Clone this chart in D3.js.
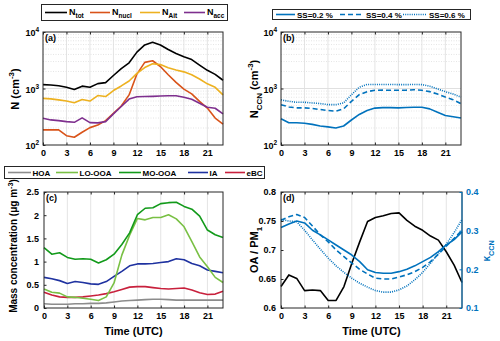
<!DOCTYPE html>
<html lang="en">
<head>
<meta charset="utf-8">
<title>Diurnal cycles</title>
<script src="https://cdn.jsdelivr.net/npm/d3@7"></script>
<style>
  body { margin: 0; background: #fff; }
  svg text { font-family: "Liberation Sans", Arial, sans-serif; font-weight: bold; }
</style>
</head>
<body>
<script>
// hour of day (UTC)
var hours = [0,1,2,3,4,5,6,7,8,9,10,11,12,13,14,15,16,17,18,19,20,21,22,23];
var xTicks = [0,3,6,9,12,15,18,21];

// (a) number concentrations, cm-3
var nTot  = [1170,1150,1120,1050,960,1100,1050,1220,1270,1700,2250,2850,4400,5900,6600,5900,4900,4150,3650,3250,2600,2100,1780,1400];
var nNucl = [185,185,185,146,137,168,203,226,270,365,490,770,1800,2900,3100,2450,1750,1280,975,805,590,450,300,235];
var nAit  = [670,655,630,600,560,640,600,750,720,920,1110,1360,1850,2350,2750,2650,2330,2130,1970,1750,1470,1210,1050,770];
var nAcc  = [297,278,270,259,252,302,249,246,259,355,480,650,715,720,725,735,745,745,700,645,550,465,447,355];

// (b) CCN number concentrations at three supersaturations
var ccn02 = [292,248,248,242,232,217,209,200,217,277,347,408,450,458,458,454,460,466,466,436,381,333,316,300];
var ccn04 = [515,472,454,454,442,425,408,397,436,593,776,880,930,935,930,930,935,950,930,880,796,706,634,540];
var ccn06 = [630,593,570,570,555,541,519,519,555,776,1050,1180,1180,1180,1180,1170,1170,1180,1170,1100,980,880,796,706];

// (c) mass concentrations, ug m-3
var hoa   = [0.09,0.08,0.08,0.08,0.09,0.09,0.1,0.1,0.11,0.13,0.15,0.16,0.17,0.18,0.19,0.19,0.18,0.17,0.17,0.17,0.17,0.17,0.17,0.17];
var loOoa = [0.41,0.34,0.32,0.24,0.23,0.21,0.19,0.16,0.24,0.54,1.14,1.57,1.93,1.9,1.95,1.95,2.01,1.92,1.75,1.43,1.1,0.89,0.66,0.55];
var moOoa = [1.3,1.16,1.19,1.09,1.05,1.06,1.05,0.97,1.04,1.16,1.37,1.62,2.01,2.15,2.16,2.25,2.27,2.28,2.19,2.13,1.98,1.68,1.58,1.52];
var ia    = [0.66,0.63,0.59,0.53,0.57,0.55,0.52,0.51,0.57,0.68,0.79,0.91,0.95,0.95,0.96,0.98,1.0,1.06,1.04,0.96,0.91,0.82,0.79,0.76];
var ebc   = [0.34,0.28,0.24,0.23,0.23,0.24,0.26,0.28,0.31,0.35,0.4,0.45,0.46,0.46,0.44,0.42,0.41,0.42,0.43,0.39,0.33,0.29,0.3,0.36];

// (d) OA / PM1 ratio and kappa CCN
var oaPm1 = [0.637,0.657,0.651,0.63,0.631,0.63,0.613,0.613,0.637,0.677,0.714,0.749,0.756,0.759,0.763,0.764,0.751,0.741,0.734,0.724,0.717,0.697,0.674,0.644];
var kap02 = [0.308,0.317,0.325,0.32,0.301,0.289,0.276,0.263,0.25,0.237,0.22,0.199,0.192,0.19,0.19,0.194,0.2,0.209,0.22,0.231,0.246,0.263,0.277,0.297];
var kap04 = [0.327,0.336,0.342,0.334,0.312,0.289,0.271,0.25,0.233,0.216,0.2,0.188,0.177,0.175,0.175,0.18,0.186,0.194,0.205,0.22,0.239,0.26,0.28,0.301];
var kap06 = [0.329,0.325,0.323,0.301,0.276,0.252,0.229,0.209,0.192,0.177,0.164,0.154,0.145,0.141,0.141,0.147,0.157,0.173,0.192,0.216,0.241,0.265,0.295,0.329];

var logTicks = [100,1000,10000];
var logTickExp = ["2","3","4"];
var massTicks = [0,0.5,1,1.5,2,2.5];
var massLabels = ["0","0.5","1","1.5","2","2.5"];
var ratioTicks = [0.6,0.65,0.7,0.75,0.8];
var ratioLabels = ["0.6","0.65","0.7","0.75","0.8"];
var kapTicks = [0.1,0.2,0.3,0.4];
var kapLabels = ["0.1","0.2","0.3","0.4"];

var blue = "#0072bd";

var svg = d3.select("body").append("svg").attr("width", 500).attr("height", 341);

// text with sub/superscripts
function rich(sel, parts, size) {
    var prev = 0;
    parts.forEach(function (p) {
        var shift = p[1] === "sub" ? size * 0.35 : (p[1] === "sup" ? -size * 0.42 : 0);
        var t = sel.append("tspan").text(p[0]).attr("dy", shift - prev);
        if (p[1]) t.attr("font-size", size * 0.72);
        prev = shift;
    });
}

function makePanel(box, y, opts) {
    var x = d3.scaleLinear().domain([0, 23]).range([box.l, box.r]);
    var g = svg.append("g");
    // grid
    g.selectAll(".vg").data(xTicks.slice(1)).enter().append("line")
        .attr("x1", function (d) { return x(d); }).attr("x2", function (d) { return x(d); })
        .attr("y1", box.t).attr("y2", box.b)
        .attr("stroke", "#e4e4e4").attr("stroke-width", 1);
    if (opts.log) {
        var minor = [];
        [100, 1000].forEach(function (dec) {
            for (var k = 2; k <= 9; k++) minor.push(dec * k);
        });
        g.selectAll(".mg").data(minor).enter().append("line")
            .attr("x1", box.l).attr("x2", box.r)
            .attr("y1", function (d) { return y(d); }).attr("y2", function (d) { return y(d); })
            .attr("stroke", "#dedede").attr("stroke-width", 0.8).attr("stroke-dasharray", "1,1.5");
        g.append("line").attr("x1", box.l).attr("x2", box.r)
            .attr("y1", y(1000)).attr("y2", y(1000))
            .attr("stroke", "#e0e0e0").attr("stroke-width", 1);
    }
    return {x: x, y: y, g: g};
}

function drawLine(p, data, color, dash, yScale) {
    var ys = yScale || p.y;
    var line = d3.line().x(function (d, i) { return p.x(hours[i]); }).y(function (d) { return ys(d); });
    var path = p.g.append("path").datum(data).attr("d", line)
        .attr("fill", "none").attr("stroke", color).attr("stroke-width", 1.6)
        .attr("stroke-linejoin", "round");
    if (dash) path.attr("stroke-dasharray", dash);
}

function frame(p, box, leftTicks, leftLabel, rightColor) {
    var g = p.g;
    // x axis bottom with labels, top without
    var xb = g.append("g").attr("transform", "translate(0," + box.b + ")")
        .call(d3.axisBottom(p.x).tickValues(xTicks).tickSize(-2.5).tickSizeOuter(0).tickPadding(5));
    var xt = g.append("g").attr("transform", "translate(0," + box.t + ")")
        .call(d3.axisTop(p.x).tickValues(xTicks).tickSize(-2.5).tickSizeOuter(0).tickFormat(""));
    var yl = g.append("g").attr("transform", "translate(" + box.l + ",0)")
        .call(d3.axisLeft(p.y).tickValues(leftTicks).tickSize(-2.5).tickSizeOuter(0).tickPadding(5)
            .tickFormat(leftLabel ? function (d, i) { return leftLabel[i]; } : ""));
    [xb, xt, yl].forEach(function (a) {
        a.select(".domain").remove();
        a.selectAll("line").attr("stroke", "#262626");
        a.selectAll("text").attr("font-size", 9).attr("fill", "#000")
            .style("font-family", "'Liberation Sans', Arial, sans-serif").style("font-weight", "bold");
    });
    g.append("rect").attr("x", box.l).attr("y", box.t)
        .attr("width", box.r - box.l).attr("height", box.b - box.t)
        .attr("fill", "none").attr("stroke", "#262626").attr("stroke-width", 1);
    if (rightColor) {
        g.append("line").attr("x1", box.r).attr("x2", box.r).attr("y1", box.t).attr("y2", box.b)
            .attr("stroke", rightColor).attr("stroke-width", 1);
    }
}

function panelTag(box, s) {
    svg.append("text").attr("x", box.l + 2).attr("y", box.t + 9).attr("font-size", 9).text(s);
}

function logLabels(p, box) {
    logTicks.forEach(function (v, i) {
        var t = svg.append("text").attr("x", box.l - 4).attr("y", p.y(v) + 4)
            .attr("text-anchor", "end").attr("font-size", 9);
        rich(t, [["10", null], [logTickExp[i], "sup"]], 9);
    });
}

// ---------- (a) ----------
var boxA = {l: 43, r: 223, t: 32, b: 145};
var pA = makePanel(boxA, d3.scaleLog().domain([100, 10000]).range([boxA.b, boxA.t]), {log: true});
drawLine(pA, nNucl, "#d95319");
drawLine(pA, nAit, "#edb120");
drawLine(pA, nAcc, "#7e2f8e");
drawLine(pA, nTot, "#000000");
frame(pA, boxA, logTicks, null);
logLabels(pA, boxA);
panelTag(boxA, "(a)");
var tA = svg.append("text").attr("transform", "translate(19,89) rotate(-90)")
    .attr("text-anchor", "middle").attr("font-size", 11);
rich(tA, [["N (cm", null], ["-3", "sup"], [")", null]], 11);

// ---------- (b) ----------
var boxB = {l: 281, r: 461, t: 32, b: 145};
var pB = makePanel(boxB, d3.scaleLog().domain([100, 10000]).range([boxB.b, boxB.t]), {log: true});
drawLine(pB, ccn02, blue);
drawLine(pB, ccn04, blue, "5,3");
drawLine(pB, ccn06, blue, "1,1.2");
frame(pB, boxB, logTicks, null);
logLabels(pB, boxB);
panelTag(boxB, "(b)");
var tB = svg.append("text").attr("transform", "translate(258,89) rotate(-90)")
    .attr("text-anchor", "middle").attr("font-size", 11);
rich(tB, [["N", null], ["CCN", "sub"], [" (cm", null], ["-3", "sup"], [")", null]], 11);

// ---------- (c) ----------
var boxC = {l: 44, r: 223, t: 192, b: 308};
var pC = makePanel(boxC, d3.scaleLinear().domain([0, 2.5]).range([boxC.b, boxC.t]), {});
drawLine(pC, hoa, "#8c8c8c");
drawLine(pC, ebc, "#c8203c");
drawLine(pC, ia, "#1f32a0");
drawLine(pC, loOoa, "#79c044");
drawLine(pC, moOoa, "#129a1a");
frame(pC, boxC, massTicks, massLabels);
panelTag(boxC, "(c)");
var tC = svg.append("text").attr("transform", "translate(17,246) rotate(-90)")
    .attr("text-anchor", "middle").attr("font-size", 10);
rich(tC, [["Mass concentration (", null], ["\u03bc", null], ["g m", null], ["-3", "sup"], [")", null]], 10);
svg.append("text").attr("x", (boxC.l + boxC.r) / 2).attr("y", 335)
    .attr("text-anchor", "middle").attr("font-size", 11).text("Time (UTC)");

// ---------- (d) ----------
var boxD = {l: 281, r: 462, t: 192, b: 308};
var pD = makePanel(boxD, d3.scaleLinear().domain([0.6, 0.8]).range([boxD.b, boxD.t]), {});
var yK = d3.scaleLinear().domain([0.1, 0.4]).range([boxD.b, boxD.t]);
drawLine(pD, oaPm1, "#000000");
drawLine(pD, kap02, blue, null, yK);
drawLine(pD, kap04, blue, "5,3", yK);
drawLine(pD, kap06, blue, "1,1.2", yK);
frame(pD, boxD, ratioTicks, ratioLabels, blue);
var yr = pD.g.append("g").attr("transform", "translate(" + boxD.r + ",0)")
    .call(d3.axisRight(yK).tickValues(kapTicks).tickSize(-2.5).tickSizeOuter(0).tickPadding(4)
        .tickFormat(function (d, i) { return kapLabels[i]; }));
yr.select(".domain").remove();
yr.selectAll("line").attr("stroke", blue);
yr.selectAll("text").attr("font-size", 9).attr("fill", blue)
    .style("font-family", "'Liberation Sans', Arial, sans-serif").style("font-weight", "bold");
panelTag(boxD, "(d)");
var tD = svg.append("text").attr("transform", "translate(258,250) rotate(-90)")
    .attr("text-anchor", "middle").attr("font-size", 11);
rich(tD, [["OA / PM", null], ["1", "sub"]], 11);
var tK = svg.append("text").attr("transform", "translate(490,251) rotate(-90)")
    .attr("text-anchor", "middle").attr("font-size", 10).attr("fill", blue);
rich(tK, [["\u03ba", null], ["CCN", "sub"]], 10);
svg.append("text").attr("x", (boxD.l + boxD.r) / 2).attr("y", 335)
    .attr("text-anchor", "middle").attr("font-size", 11).text("Time (UTC)");

// ---------- legends ----------
function legendBox(x0, x1, y0, y1) {
    svg.append("rect").attr("x", x0).attr("y", y0).attr("width", x1 - x0).attr("height", y1 - y0)
        .attr("fill", "#fff").attr("stroke", "#262626").attr("stroke-width", 1);
}

legendBox(41.5, 227.5, 4.5, 20.5);
var legA = [
    {x: 45, w: 22, c: "#000000", parts: [["N", null], ["tot", "sub"]]},
    {x: 90, w: 20, c: "#d95319", parts: [["N", null], ["nucl", "sub"]]},
    {x: 140, w: 20, c: "#edb120", parts: [["N", null], ["Ait", "sub"]]},
    {x: 184, w: 21, c: "#7e2f8e", parts: [["N", null], ["acc", "sub"]]}
];
legA.forEach(function (d) {
    svg.append("line").attr("x1", d.x).attr("x2", d.x + d.w).attr("y1", 12.5).attr("y2", 12.5)
        .attr("stroke", d.c).attr("stroke-width", 1.6);
    var t = svg.append("text").attr("x", d.x + d.w + 2).attr("y", 14.5).attr("font-size", 9);
    rich(t, d.parts, 9);
});

legendBox(272.5, 470.5, 9.5, 19.5);
var legB = [
    {x: 276, w: 19, dash: null, label: "SS=0.2 %"},
    {x: 340, w: 24, dash: "5,3", label: "SS=0.4 %"},
    {x: 403, w: 24, dash: "1,1.2", label: "SS=0.6 %"}
];
legB.forEach(function (d) {
    var l = svg.append("line").attr("x1", d.x).attr("x2", d.x + d.w).attr("y1", 14.5).attr("y2", 14.5)
        .attr("stroke", blue).attr("stroke-width", 1.6);
    if (d.dash) l.attr("stroke-dasharray", d.dash);
    svg.append("text").attr("x", d.x + d.w + 2).attr("y", 17.5).attr("font-size", 8).text(d.label);
});

legendBox(4.5, 264.5, 166.5, 178.5);
var legC = [
    {x: 8, w: 23, c: "#8c8c8c", label: "HOA"},
    {x: 56, w: 22, c: "#79c044", label: "LO-OOA"},
    {x: 119, w: 22, c: "#129a1a", label: "MO-OOA"},
    {x: 188, w: 20, c: "#1f32a0", label: "IA"},
    {x: 225, w: 20, c: "#c8203c", label: "eBC"}
];
legC.forEach(function (d) {
    svg.append("line").attr("x1", d.x).attr("x2", d.x + d.w).attr("y1", 172.5).attr("y2", 172.5)
        .attr("stroke", d.c).attr("stroke-width", 1.6);
    svg.append("text").attr("x", d.x + d.w + 1.5).attr("y", 175.5).attr("font-size", 8).text(d.label);
});
</script>
</body>
</html>
